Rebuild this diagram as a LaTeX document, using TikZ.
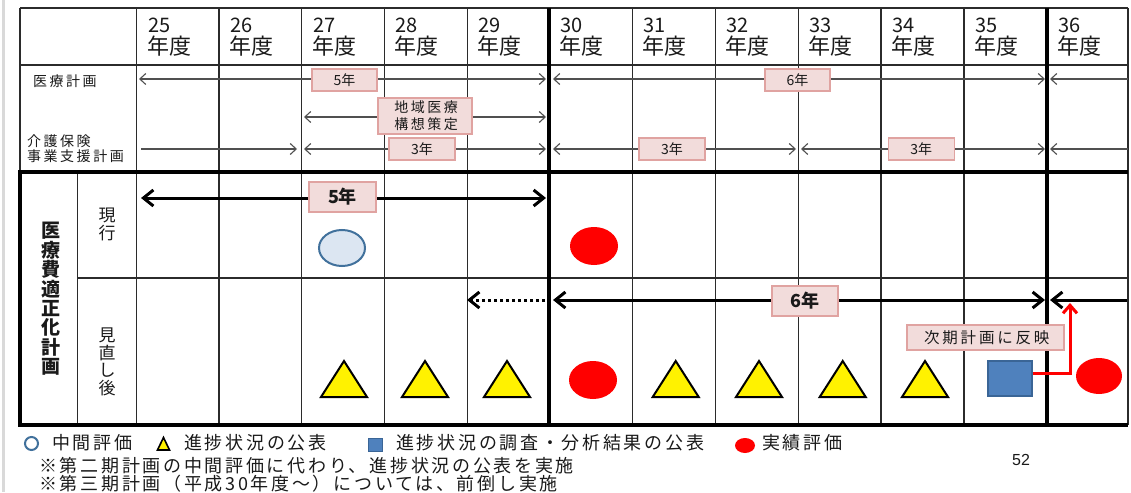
\documentclass[tikz,border=0pt]{standalone}
\usepackage{fontspec}
\setmainfont{Noto Sans CJK JP}
\newfontfamily\jpS[LetterSpace=18]{Noto Sans CJK JP}
\newfontfamily\jpL[LetterSpace=15]{Noto Sans CJK JP}
\newfontfamily\numf{Liberation Sans}
\usetikzlibrary{arrows.meta,shapes.geometric}
\definecolor{pinkfill}{HTML}{F2DCDB}
\definecolor{pinkline}{HTML}{E0A3A1}
\definecolor{circfill}{HTML}{DCE6F2}
\definecolor{circline}{HTML}{41719C}
\definecolor{sqfill}{HTML}{4F81BD}
\definecolor{sqline}{HTML}{3A6596}
\definecolor{gridc}{HTML}{2B2B2B}
\definecolor{thinarr}{HTML}{505050}
\definecolor{pagebar}{HTML}{D9D9D9}
\definecolor{txt}{HTML}{1A1A1A}
\tikzset{
  gridline/.style={line width=1.3pt, draw=gridc},
  heavyline/.style={line width=4.5pt, draw=black},
  hdrnum/.style={anchor=west, inner sep=0pt, font=\fontsize{20}{20}\selectfont, text=txt},
  hdryear/.style={anchor=west, inner sep=0pt, font=\fontsize{22}{22}\selectfont, text=txt},
  lbltext/.style={inner sep=0pt, font=\jpS\fontsize{14}{16}\selectfont, text=txt},
  tagbox/.style={draw=pinkline, fill=pinkfill, line width=1.5pt, inner sep=0pt,
     font=\fontsize{14}{16}\selectfont, text=txt, align=center},
  bigtag/.style={tagbox, font=\bfseries\fontsize{18}{18}\selectfont},
  arrT/.style={draw=thinarr, line width=1.1pt, >={Straight Barb[length=6pt,width=11pt]}},
  arrB/.style={draw=black, line width=3pt, >={Straight Barb[length=10pt,width=16pt]}},
  vlabel/.style={inner sep=0pt, align=center, text=txt},
  tri/.style={draw=black, fill=yellow, line width=2pt, line join=miter},
  redc/.style={ellipse, fill=red, draw=none, minimum width=48pt, minimum height=38pt, inner sep=0pt},
  legtext/.style={anchor=west, inner sep=0pt, font=\jpL\fontsize{18}{18}\selectfont, text=txt},
}
\begin{document}
\begin{tikzpicture}[x=1pt,y=-1pt]
\useasboundingbox (0,0) rectangle (1131,492);
\fill[white] (0,0) rectangle (1131,492);
\fill[pagebar] (2,0) rectangle (5,492);

% column coordinates
\foreach \i/\x in {0/136.8,1/219,2/301.8,3/384.6,4/467.5,5/549,6/632.5,7/715.5,8/798.5,9/881,10/964,11/1047,12/1128}
  \coordinate (c\i) at (\x,8);

% grid
\draw[gridline] (20,8) -- (1128,8);
\draw[gridline] (20,65) -- (1128,65);
\draw[gridline] (20,8) -- (20,172);
\draw[gridline] (1128,8) -- (1128,425);
\foreach \x in {136.8,219,301.8,384.6,467.5,632.5,715.5,798.5,881,964}
  \draw[gridline] (\x,8) -- (\x,425);
\draw[gridline] (77.5,172) -- (77.5,425);
\draw[gridline] (77.5,278) -- (1128,278);
\draw[line width=4pt] (1128,172) -- (20,172) -- (20,425) -- (1128,425);
\draw[heavyline] (549,8) -- (549,427);
\draw[heavyline] (1047,8) -- (1047,427);

% header
\foreach \x/\yr in {136.8/25,219/26,301.8/27,384.6/28,467.5/29,549/30,632.5/31,715.5/32,798.5/33,881/34,964/35,1047/36} {
  \node[hdrnum] (y\yr) at (\x+11,25) {\yr};
  \node[hdryear] (n\yr) at (\x+10,46) {年度};
}

% row labels upper
\node[lbltext, anchor=west] (iryo) at (33,81) {医療計画};
\node[lbltext, anchor=west] (kaigo1) at (27,141) {介護保険};
\node[lbltext, anchor=west] (kaigo2) at (27,156.5) {事業支援計画};

% upper arrows
\coordinate (a1l) at (139,79); \coordinate (a1r) at (546,79);
\coordinate (a2l) at (553,79); \coordinate (a2r) at (1045,79);
\coordinate (a3l) at (1050,79); \coordinate (a3r) at (1128,79);
\coordinate (b1l) at (304,117); \coordinate (b1r) at (546,117);
\coordinate (d1l) at (141,149); \coordinate (d1r) at (297,149);
\coordinate (d2l) at (304,149); \coordinate (d2r) at (546,149);
\coordinate (d3l) at (553,149); \coordinate (d3r) at (796,149);
\coordinate (d4l) at (801,149); \coordinate (d4r) at (1045,149);
\coordinate (d5l) at (1050,149); \coordinate (d5r) at (1128,149);
\draw[arrT,<->] (a1l) -- (a1r);
\draw[arrT,<->] (a2l) -- (a2r);
\draw[arrT,<-] (a3l) -- (a3r);
\draw[arrT,<->] (b1l) -- (b1r);
\draw[arrT,->] (d1l) -- (d1r);
\draw[arrT,<->] (d2l) -- (d2r);
\draw[arrT,<->] (d3l) -- (d3r);
\draw[arrT,<->] (d4l) -- (d4r);
\draw[arrT,<-] (d5l) -- (d5r);

\node[tagbox, minimum width=65pt, minimum height=22pt] (t5) at (344.5,80) {5年};
\node[tagbox, minimum width=65pt, minimum height=22pt] (t6) at (797.5,80) {6年};
\node[tagbox, font=\jpS\fontsize{14}{17}\selectfont, minimum width=94pt, minimum height=36pt] (tchiiki) at (424.8,116) {\hspace*{2.5pt}地域医療\\\hspace*{2.5pt}構想策定};
\node[tagbox, minimum width=66pt, minimum height=22pt] (t3a) at (422,149) {3年};
\node[tagbox, minimum width=66pt, minimum height=22pt] (t3b) at (672,149) {3年};
\node[tagbox, minimum width=66pt, minimum height=22pt] (t3c) at (921.3,149) {3年};

% lower section labels
\node[vlabel, font=\bfseries\fontsize{19}{19.4}\selectfont] (tekisei) at (51,299) {医\\療\\費\\適\\正\\化\\計\\画};
\node[vlabel, font=\fontsize{17}{18}\selectfont] (genko) at (107,224) {現\\行};
\node[vlabel, font=\fontsize{17}{17.5}\selectfont] (minaoshi) at (107,362) {見\\直\\し\\後};

% lower arrows
\coordinate (e1l) at (141,198); \coordinate (e1r) at (546,198);
\coordinate (f0l) at (467,300); \coordinate (f0r) at (545,300);
\coordinate (f1l) at (553,300); \coordinate (f1r) at (1045,300);
\coordinate (f2l) at (1050,300); \coordinate (f2r) at (1127,300);
\draw[arrB,<->] (e1l) -- (e1r);
\draw[arrB,->, dash pattern=on 3pt off 3pt] (f0r) -- (f0l);
\draw[arrB,<->] (f1l) -- (f1r);
\draw[arrB,<-] (f2l) -- (f2r);
\node[bigtag, minimum width=67pt, minimum height=30pt] (b5) at (342.5,197) {5年};
\node[bigtag, minimum width=66pt, minimum height=30pt] (b6) at (805,301) {6年};

% markers
\node[ellipse, fill=circfill, draw=circline, line width=2pt, minimum width=46pt, minimum height=36pt, inner sep=0pt] (mid) at (342,248) {};
\node[redc] (r1) at (594,246) {};
\node[redc] (r2) at (593,380) {};
\node[redc, minimum width=46pt, minimum height=36pt] (r3) at (1099,376) {};
\foreach \x in {344,425,507,675.7,759,842.7,925}
  \draw[tri] (\x-23,397) -- (\x,361) -- (\x+23,397) -- cycle;
\node[fill=sqfill, draw=sqline, line width=2pt, minimum width=44pt, minimum height=35pt, inner sep=0pt] (sq) at (1009.5,378) {};
\coordinate (redknee) at (1070,373);
\coordinate (redtip) at (1070,303);
\draw[red, line width=3pt, -{Straight Barb[length=8pt,width=14pt]}] (sq.east |- redknee) -- (redknee) -- (redtip);
\node[tagbox, font=\jpS\fontsize{15.5}{16}\selectfont, minimum width=157pt, minimum height=25pt] (refl) at (985.5,337.5) {\hspace*{2.5pt}次期計画に反映};

% legend
\node[ellipse, fill=white, draw=circline, line width=2pt, minimum width=13pt, minimum height=13pt, inner sep=0pt] (lc) at (31.5,443.5) {};
\node[legtext] (lg1) at (52,443) {中間評価};
\draw[draw=black, fill=yellow, line width=1.6pt] (157.5,450) -- (163.5,437.5) -- (169.5,450) -- cycle;
\node[legtext] (lg2) at (184,443) {進捗状況の公表};
\node[fill=sqfill, draw=sqline, line width=1pt, minimum width=14pt, minimum height=13pt, inner sep=0pt] (lsq) at (375.5,444.5) {};
\node[legtext] (lg3) at (396,443) {進捗状況の調査・分析結果の公表};
\node[ellipse, fill=red, minimum width=20pt, minimum height=15pt, inner sep=0pt] (lr) at (745,445.5) {};
\node[legtext] (lg4) at (762,443) {実績評価};
\node[legtext] (note1) at (39,466) {※第二期計画の中間評価に代わり、進捗状況の公表を実施};
\node[legtext] (note2) at (39,484) {※第三期計画（平成30年度～）については、前倒し実施};
\node[inner sep=0pt, font=\numf\fontsize{16}{16}\selectfont, text=txt] (pg) at (1021,460) {52};
\end{tikzpicture}
\end{document}
